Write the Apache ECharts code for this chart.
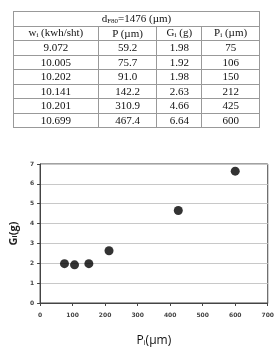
<!DOCTYPE html>
<html><head><meta charset="utf-8">
<script src="https://cdn.jsdelivr.net/npm/echarts@6/dist/echarts.min.js"></script>
<style>
html,body{margin:0;padding:0;background:#fff;width:277px;height:350px;overflow:hidden;}
#tbl{position:absolute;left:13px;top:11px;width:247px;border-collapse:collapse;font-family:"Liberation Serif","DejaVu Serif",serif;font-size:11px;color:#111;z-index:2;}
#tbl td{border:1px solid #999;text-align:center;height:13.5px;padding:0;line-height:11px;}
#tbl sub{font-size:7px;vertical-align:-1px;line-height:7px;}
#chart{position:absolute;left:0;top:0;width:277px;height:350px;}
</style></head>
<body>
<div id="chart"></div>
<table id="tbl">
<colgroup><col style="width:85px"><col style="width:59px"><col style="width:45px"><col style="width:58px"></colgroup>
<tbody id="tb"></tbody>
</table>
<script>
const wi = ["9.072","10.005","10.202","10.141","10.201","10.699"];
const P  = ["59.2","75.7","91.0","142.2","310.9","467.4"];
const Gi = [1.98, 1.92, 1.98, 2.63, 4.66, 6.64];
const Pi = [75, 106, 150, 212, 425, 600];
const GiText = ["1.98","1.92","1.98","2.63","4.66","6.64"];

const tb = document.getElementById('tb');
let html = '<tr><td colspan="4">d<sub>F80</sub>=1476 (µm)</td></tr>';
html += '<tr><td>w<sub>i</sub> (kwh/sht)</td><td>P (µm)</td><td>G<sub>i</sub> (g)</td><td>P<sub>i</sub> (µm)</td></tr>';
for (let i = 0; i < wi.length; i++) {
  html += '<tr><td>' + wi[i] + '</td><td>' + P[i] + '</td><td>' + GiText[i] + '</td><td>' + Pi[i] + '</td></tr>';
}
tb.innerHTML = html;

const chart = echarts.init(document.getElementById('chart'), null, {renderer:'canvas'});
chart.setOption({
  animation:false,
  grid:{left:27, top:164, width:242, height:139, show:true, borderColor:'#444', borderWidth:1, containLabel:false},
  xAxis:{
    type:'value', min:0, max:700, interval:100,
    axisLine:{show:true, lineStyle:{color:'#444'}},
    axisTick:{show:true, length:3, lineStyle:{color:'#444'}},
    splitLine:{show:false},
    axisLabel:{fontSize:6, fontWeight:'bold', color:'#444', margin:9, fontFamily:'DejaVu Sans'},
    name:'{a|P}{s|i}{a|(µm)}', nameLocation:'middle', nameGap:32,
    nameTextStyle:{rich:{a:{fontSize:12, color:'#111', fontFamily:'Open Sans'}, s:{fontSize:7, color:'#111', fontFamily:'Open Sans', padding:[3,0,0,0]}}}
  },
  yAxis:{
    type:'value', min:0, max:7, interval:1,
    axisLine:{show:true, lineStyle:{color:'#444'}},
    axisTick:{show:true, length:3, lineStyle:{color:'#444'}},
    splitLine:{show:true, lineStyle:{color:'#c8c8c8', width:1}},
    axisLabel:{fontSize:6, fontWeight:'bold', color:'#444', margin:6, fontFamily:'DejaVu Sans'},
    name:'{a|G}{s|i}{a|(g)}', nameLocation:'middle', nameGap:17, nameRotate:90,
    nameTextStyle:{rich:{a:{fontSize:11, fontWeight:'bold', color:'#222', fontFamily:'Open Sans'}, s:{fontSize:7, fontWeight:'bold', color:'#222', fontFamily:'Open Sans', padding:[3,0,0,0]}}}
  },
  series:[{
    type:'scatter', symbol:'circle', symbolSize:9,
    itemStyle:{color:'#000'},
    data: Pi.map((x,i)=>[x, Gi[i]])
  }]
});
</script>
</body></html>
